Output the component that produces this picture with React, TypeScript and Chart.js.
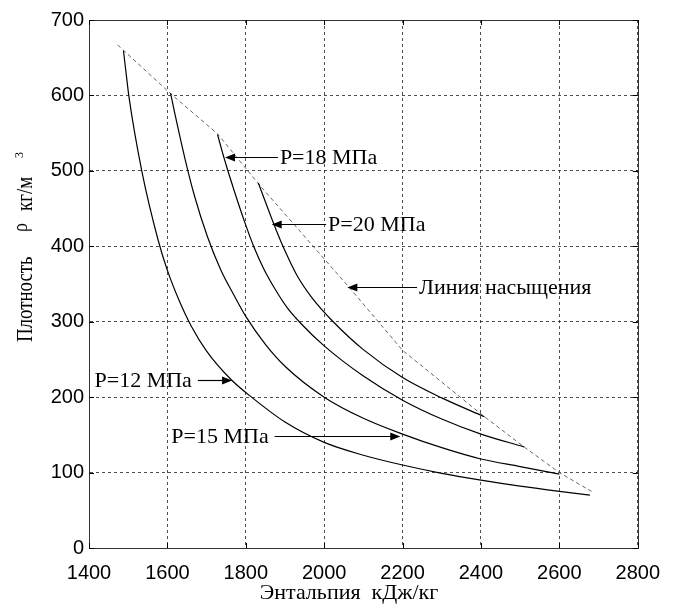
import React, { useEffect, useRef } from 'react';
import { Chart, registerables } from 'chart.js';

Chart.register(...registerables);

// Enthalpy (kJ/kg) and density (kg/m3) along each isobar
const h12 = [1488, 1495, 1502, 1535, 1577, 1600, 1630, 1660, 1700, 1763, 1817, 1900, 2000, 2100, 2200, 2300, 2400, 2500, 2600, 2678];
const rho12 = [659, 628, 598, 499, 407, 368, 328, 295, 261, 223, 199, 167, 140, 123, 110, 99, 90, 82, 75, 70];

const h15 = [1608, 1619, 1644, 1669, 1702, 1736, 1770, 1800, 1850, 1900, 2000, 2100, 2200, 2300, 2400, 2500, 2600];
const rho15 = [603, 576, 518, 467, 413, 369, 335, 307, 270, 241, 200, 172, 151, 133, 118, 108, 98];

const h18 = [1728, 1744, 1769, 1800, 1820, 1845, 1875, 1905, 1940, 2000, 2100, 2200, 2300, 2400, 2510];
const rho18 = [548, 518, 476, 428, 400, 371, 343, 319, 298, 268, 228, 196, 171, 151, 134];

const h20 = [1832, 1855, 1878, 1900, 1930, 1970, 2023, 2100, 2200, 2300, 2409];
const rho20 = [484, 452, 421, 394, 362, 331, 300, 263, 226, 199, 174];

// Saturation line
const hSat = [1473, 1609, 1728, 1832, 2063, 2200, 2409, 2510, 2600, 2682];
const rhoSat = [667, 602, 549, 483, 346, 262, 174, 134, 100, 75];

const xMin = 1400;
const xMax = 2800;
const xStep = 200;
const yMin = 0;
const yMax = 700;
const yStep = 100;

const xTitle = 'Энтальпия  кДж/кг';
const yTitleParts = ['Плотность', 'ρ', 'кг/м'];
const yTitleSup = '3';

// Callout labels: text, arrow tip (enthalpy), level (density), text start (enthalpy)
const calloutText = ['P=18 МПа', 'P=20 МПа', 'Линия насыщения', 'P=12 МПа', 'P=15 МПа'];
const calloutTip = [1747, 1866, 2059, 1765, 2194];
const calloutLevel = [519, 430, 346, 223, 148];
const calloutStart = [1887, 2010, 2242, 1414, 1610];

const zip = (xs: number[], ys: number[]) => xs.map((x, i) => ({ x, y: ys[i] }));

const serif = '"Liberation Serif", "Times New Roman", serif';
const sans = '"Liberation Sans", Arial, sans-serif';

const framePlugin = {
  id: 'framePlugin',
  afterDraw(chart: any) {
    const { ctx, chartArea: a, scales } = chart;
    const xs = scales.x;
    const ys = scales.y;
    ctx.save();
    // frame
    ctx.strokeStyle = '#333';
    ctx.lineWidth = 1;
    ctx.setLineDash([]);
    ctx.strokeRect(Math.round(a.left) + 0.5, Math.round(a.top) + 0.5, Math.round(a.right - a.left), Math.round(a.bottom - a.top));
    // inward ticks
    ctx.strokeStyle = '#000';
    ctx.beginPath();
    for (let v = xMin; v <= xMax; v += xStep) {
      const px = Math.round(xs.getPixelForValue(v)) + 0.5;
      ctx.moveTo(px, a.bottom);
      ctx.lineTo(px, a.bottom - 5);
      ctx.moveTo(px, a.top);
      ctx.lineTo(px, a.top + 5);
    }
    for (let v = yMin; v <= yMax; v += yStep) {
      const py = Math.round(ys.getPixelForValue(v)) + 0.5;
      ctx.moveTo(a.left, py);
      ctx.lineTo(a.left + 5, py);
      ctx.moveTo(a.right, py);
      ctx.lineTo(a.right - 5, py);
    }
    ctx.stroke();

    // callouts
    ctx.fillStyle = '#000';
    ctx.font = '22px ' + serif;
    ctx.textBaseline = 'middle';
    ctx.textAlign = 'left';
    calloutText.forEach((t, i) => {
      const tip = xs.getPixelForValue(calloutTip[i]);
      const py = Math.round(ys.getPixelForValue(calloutLevel[i])) + 0.5;
      const tx = xs.getPixelForValue(calloutStart[i]);
      const w = ctx.measureText(t).width;
      ctx.fillText(t, tx, py + 1);
      let tail: number;
      let dir: number;
      if (tx > tip) {
        tail = tx - 2;
        dir = -1;
      } else {
        tail = tx + w + 6;
        dir = 1;
      }
      ctx.beginPath();
      ctx.lineWidth = 1.2;
      ctx.moveTo(tail, py);
      ctx.lineTo(tip - dir * 8, py);
      ctx.stroke();
      ctx.beginPath();
      ctx.moveTo(tip, py);
      ctx.lineTo(tip - dir * 10, py - 4);
      ctx.lineTo(tip - dir * 10, py + 4);
      ctx.closePath();
      ctx.fill();
    });

    // x title
    ctx.font = '22px ' + serif;
    ctx.textAlign = 'center';
    ctx.textBaseline = 'middle';
    ctx.fillText(xTitle, 349, 593);

    // y title (rotated)
    ctx.save();
    const bottom = 342;
    ctx.translate(32, bottom);
    ctx.rotate(-Math.PI / 2);
    ctx.textAlign = 'left';
    ctx.textBaseline = 'alphabetic';
    const offs = [0, 110, 131];
    const lifts = [0, -5, 0];
    yTitleParts.forEach((p, i) => {
      ctx.save();
      ctx.translate(offs[i], lifts[i]);
      ctx.scale(0.82, 1);
      ctx.font = (i === 1 ? '22px ' : '23px ') + serif;
      ctx.fillText(p, 0, 0);
      ctx.restore();
    });
    ctx.save();
    ctx.translate(184, -9);
    ctx.font = '12px ' + serif;
    ctx.fillText(yTitleSup, 0, 0);
    ctx.restore();
    ctx.restore();

    ctx.restore();
  },
};

export default function App() {
  const ref = useRef<HTMLCanvasElement>(null);
  useEffect(() => {
    document.body.style.margin = '0';
    const canvas = ref.current;
    if (!canvas) return;
    const lineStyle = {
      borderColor: '#000',
      borderWidth: 1.2,
      pointRadius: 0,
      fill: false,
      cubicInterpolationMode: 'monotone' as const,
    };
    const chart = new Chart(canvas, {
      type: 'line',
      data: {
        datasets: [
          { label: 'P=12 МПа', data: zip(h12, rho12), ...lineStyle },
          { label: 'P=15 МПа', data: zip(h15, rho15), ...lineStyle },
          { label: 'P=18 МПа', data: zip(h18, rho18), ...lineStyle },
          { label: 'P=20 МПа', data: zip(h20, rho20), ...lineStyle },
          {
            label: 'Линия насыщения',
            data: zip(hSat, rhoSat),
            borderColor: '#555',
            borderWidth: 0.9,
            borderDash: [4, 3],
            pointRadius: 0,
            fill: false,
            tension: 0,
          },
        ],
      },
      options: {
        animation: false,
        responsive: false,
        maintainAspectRatio: false,
        events: [],
        layout: { padding: { left: 0, top: 20, right: 25, bottom: 0 } },
        plugins: {
          legend: { display: false },
          tooltip: { enabled: false },
          title: { display: false },
        },
        scales: {
          x: {
            type: 'linear',
            min: xMin,
            max: xMax,
            afterFit: (s: any) => {
              s.height = 61;
            },
            ticks: {
              stepSize: xStep,
              autoSkip: false,
              maxRotation: 0,
              padding: 13,
              color: '#000',
              font: { family: sans, size: 20 },
              callback: (v: any) => String(v),
            },
            grid: { color: '#222', lineWidth: 0.8, drawTicks: false },
            border: { display: true, color: '#333', width: 1, dash: [3, 3] },
          },
          y: {
            type: 'linear',
            min: yMin,
            max: yMax,
            afterFit: (s: any) => {
              s.width = 89;
            },
            ticks: {
              stepSize: yStep,
              padding: 5,
              color: '#000',
              font: { family: sans, size: 20 },
              callback: (v: any) => String(v),
            },
            grid: { color: '#222', lineWidth: 0.8, drawTicks: false },
            border: { display: true, color: '#333', width: 1, dash: [3, 3] },
          },
        },
      },
      plugins: [framePlugin],
    });
    return () => chart.destroy();
  }, []);
  return (
    <div style={{ width: 673, height: 609, position: 'relative', background: '#fff' }}>
      <canvas ref={ref} width={673} height={609} style={{ width: 673, height: 609, display: 'block' }} />
    </div>
  );
}
